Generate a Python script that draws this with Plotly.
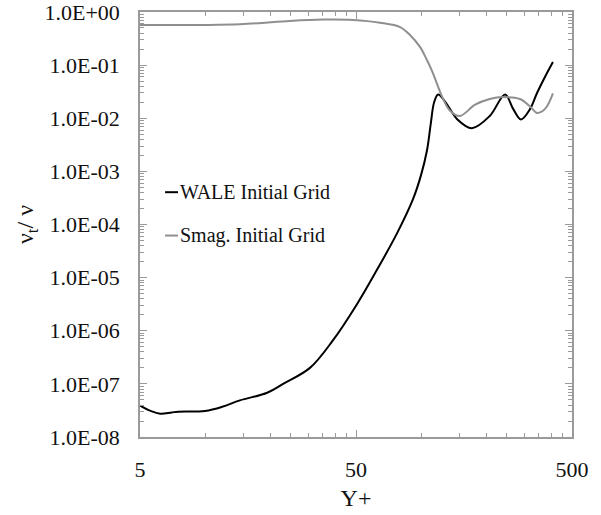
import plotly.graph_objects as go

# Data
wale_x = [5, 5.6, 6.2, 7.0, 7.5, 10, 12, 14.5, 19.4, 23, 30.6, 39, 50.6, 62.5, 77.4, 91.8,
          100, 106.6, 111, 115, 120, 130, 147, 172, 208, 245, 267, 290, 320, 344, 383, 408]
wale_v = [3.9e-8, 3.1e-8, 2.75e-8, 2.9e-8, 3.0e-8, 3.1e-8, 3.7e-8, 4.9e-8, 6.8e-8, 1.0e-7,
          2.0e-7, 6.5e-7, 3.2e-6, 1.4e-5, 6.8e-5, 3.0e-4, 8.5e-4, 2.5e-3, 8.0e-3, 2.0e-2,
          2.8e-2, 2.0e-2, 9.6e-3, 6.5e-3, 1.1e-2, 2.8e-2, 1.5e-2, 9.5e-3, 1.5e-2, 2.95e-2,
          7.1e-2, 1.15e-1]

smag_x = [5, 14.5, 24.7, 35.2, 48.4, 64.6, 80, 88.9, 98.9, 106, 113.5, 126, 136, 151, 178,
          208, 240, 287, 320, 344, 375, 408]
smag_v = [0.57, 0.59, 0.68, 0.72, 0.71, 0.63, 0.52, 0.37, 0.22, 0.13, 0.071, 0.024, 0.014,
          0.011, 0.018, 0.023, 0.025, 0.023, 0.0166, 0.0126, 0.015, 0.0295]

series_names = ["WALE Initial Grid", "Smag. Initial Grid"]
series_colors = ["#000000", "#8f8f8f"]

y_tickvals = [10.0 ** e for e in range(-8, 1)]
y_ticktext = ["1.0E-08", "1.0E-07", "1.0E-06", "1.0E-05", "1.0E-04", "1.0E-03",
              "1.0E-02", "1.0E-01", "1.0E+00"]
x_tickvals = [5, 50, 500]
x_ticktext = ["5", "50", "500"]

FONT = "Liberation Serif"
AX = "#9a9a9a"

y_minor = [k * 10.0 ** e for e in range(-8, 0) for k in range(2, 10)]
x_minor = [k * 5 * 10 ** e for e in range(0, 2) for k in range(2, 10)]

fig = go.Figure()
for xs, vs, name, col in [(wale_x, wale_v, series_names[0], series_colors[0]),
                          (smag_x, smag_v, series_names[1], series_colors[1])]:
    fig.add_trace(go.Scatter(x=xs, y=vs, mode="lines", name=name,
                             line=dict(color=col, width=2, shape="spline", smoothing=1.0),
                             showlegend=False))

# manual legend
leg_y = [0.576, 0.474]
for i in range(2):
    fig.add_shape(type="line", xref="paper", yref="paper", x0=0.058, x1=0.088,
                  y0=leg_y[i], y1=leg_y[i], line=dict(color=series_colors[i], width=2))
    fig.add_annotation(x=0.089, y=leg_y[i], xref="paper", yref="paper", text=series_names[i],
                       showarrow=False, xanchor="left", yanchor="middle",
                       font=dict(family=FONT, size=20, color="#111"))

fig.update_layout(
    width=601, height=515,
    margin=dict(l=140, r=29, t=12, b=78),
    paper_bgcolor="white", plot_bgcolor="white",
    font=dict(family=FONT, size=22, color="#111"),
    xaxis=dict(type="log", range=[0.69897, 2.69897], tickmode="array", automargin=False,
               tickvals=x_tickvals, ticktext=x_ticktext, ticks="inside", ticklen=7,
               tickcolor=AX, showline=True, linecolor=AX, linewidth=1.5, mirror="allticks",
               showgrid=False, zeroline=False, ticklabelstandoff=12, ticklabeloverflow="allow",
               tickfont=dict(family=FONT, size=22, color="#111"),
               minor=dict(tickmode="array", tickvals=x_minor, ticks="inside", ticklen=4,
                          tickcolor=AX, showgrid=False),
               title=dict(text="Y+", font=dict(family=FONT, size=24, color="#111"), standoff=8)),
    yaxis=dict(type="log", range=[-8, 0], tickmode="array", automargin=False,
               tickvals=y_tickvals, ticktext=y_ticktext, ticks="inside", ticklen=7,
               tickcolor=AX, showline=True, linecolor=AX, linewidth=1.5, mirror="allticks",
               showgrid=False, zeroline=False, ticklabelstandoff=14, ticklabeloverflow="allow",
               tickfont=dict(family=FONT, size=22, color="#111"),
               minor=dict(tickmode="array", tickvals=y_minor, ticks="inside", ticklen=4,
                          tickcolor=AX, showgrid=False),
               title=dict(text="ν<sub>t</sub>/ ν", font=dict(family=FONT, size=24, color="#111"),
                          standoff=4)),
)

fig.write_html("out.html")
